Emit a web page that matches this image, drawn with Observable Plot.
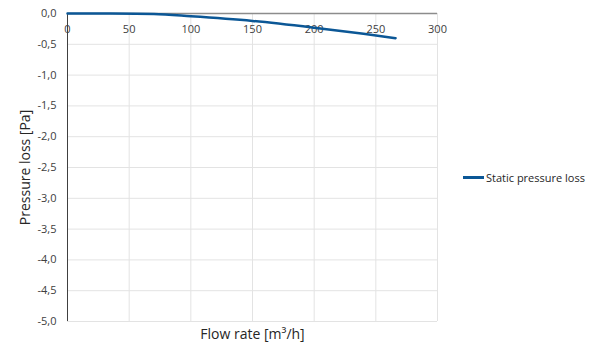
<!DOCTYPE html>
<html><head><meta charset="utf-8">
<script src="https://cdn.jsdelivr.net/npm/d3@7"></script>
<script src="https://cdn.jsdelivr.net/npm/@observablehq/plot@0.6"></script>
<style>
body{margin:0;background:#fff;font-family:"Open Sans",sans-serif;}
#wrap{position:relative;width:600px;height:356px;}
#legend{position:absolute;left:463px;top:170px;font-size:11px;color:#262626;display:flex;align-items:center;}
#legend span.sw{display:inline-block;width:21px;height:2.5px;background:#0b5796;margin-right:2px;}
</style></head>
<body><div id="wrap"><div id="legend"><span class="sw"></span>Static pressure loss</div></div>
<script>
const flow = [0, 35, 70, 100, 150, 200, 240, 266];
const loss = [0, -0.002, -0.01, -0.045, -0.12, -0.23, -0.33, -0.40];
const xTicks = [0, 50, 100, 150, 200, 250, 300];
const yTicks = [0, -0.5, -1, -1.5, -2, -2.5, -3, -3.5, -4, -4.5, -5];
const seriesName = "Static pressure loss";
const xTitle = "Flow rate [m³/h]";
const yTitle = "Pressure loss [Pa]";

const data = flow.map((f, i) => ({flow: f, loss: loss[i]}));
const fmt = v => v.toFixed(1).replace(".", ",");

const chart = Plot.plot({
  width: 600, height: 356,
  marginLeft: 67, marginRight: 163, marginTop: 13, marginBottom: 35,
  style: {fontFamily: "Open Sans", fontSize: "11px", color: "#595959", background: "transparent"},
  x: {domain: [0, 300], axis: null},
  y: {domain: [-5, 0], axis: null},
  marks: [
    Plot.gridX(xTicks, {stroke: "#e3e3e3", strokeOpacity: 1}),
    Plot.gridY(yTicks, {stroke: "#e3e3e3", strokeOpacity: 1}),
    Plot.axisY(yTicks, {tickSize: 0, tickPadding: 11, tickFormat: fmt, label: null, fill: "#404040", fontSize: 11}),
    Plot.ruleX([0], {stroke: "#404040", strokeWidth: 1}),
    Plot.ruleY([0], {stroke: "#8c8c8c", strokeWidth: 1.5}),
    Plot.text(xTicks, {x: d => d, y: 0, dy: 16, text: d => String(d), fill: "#404040", fontSize: 11}),
    Plot.line(data, {x: "flow", y: "loss", stroke: "#0b5796", strokeWidth: 2.5, curve: "monotone-x"}),
    Plot.text([xTitle], {frameAnchor: "bottom", dy: 17, fill: "#262626", fontSize: 14}),
    Plot.text([yTitle], {frameAnchor: "left", dx: -42, rotate: -90, textAnchor: "middle", fill: "#262626", fontSize: 14})
  ]
});
document.getElementById("wrap").prepend(chart);
chart.style.position = "absolute"; chart.style.left = "0"; chart.style.top = "0";
</script></body></html>
